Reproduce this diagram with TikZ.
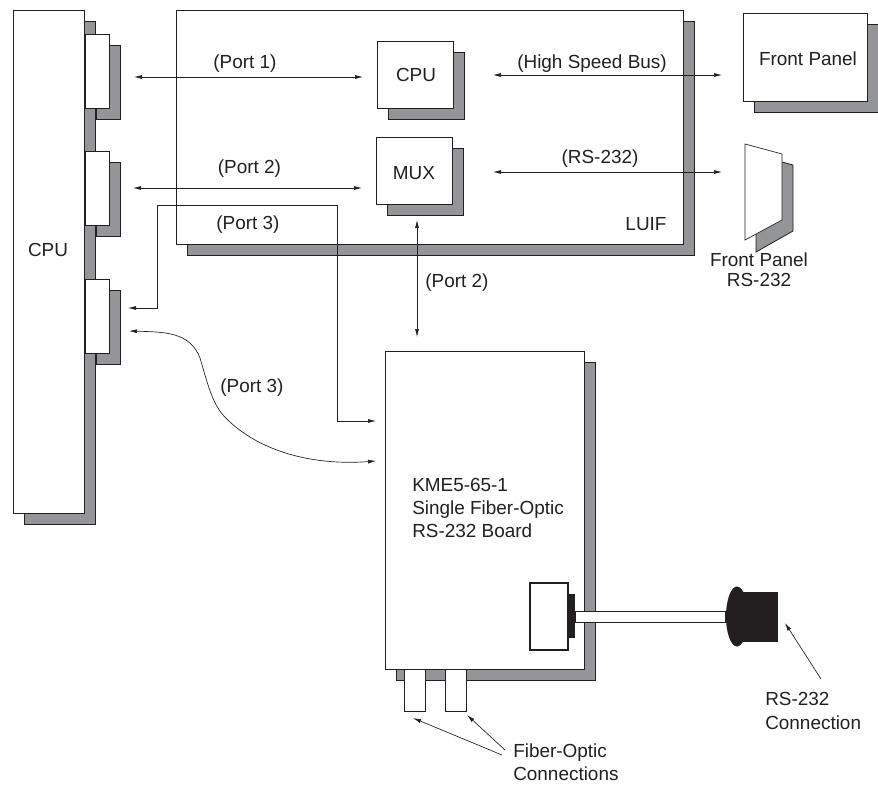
\documentclass[tikz,border=0pt]{standalone}
\usepackage{fontspec}
\setmainfont{Liberation Sans}
\usepackage{xcolor}
\usepackage{tikz}
\usetikzlibrary{arrows.meta,shadows}
\definecolor{cShade}{HTML}{939598}
\definecolor{cInk}{HTML}{231F20}
\tikzset{
  panel/.style={draw=cInk,fill=white,line width=0.6pt,anchor=north west,inner sep=0pt,
    copy shadow={shadow xshift=8.25pt,shadow yshift=-8.25pt,fill=cShade,draw=cInk,line width=0.8pt}},
  boxsize/.style 2 args={minimum width=#1*0.75pt,minimum height=#2*0.75pt},
  tag/.style={text=cInk,inner sep=0pt},
  link/.style={cInk,line width=0.5pt,{Latex[length=6pt,width=3pt]}-{Latex[length=6pt,width=3pt]}},
  pointer/.style={cInk,line width=0.5pt,-{Latex[length=6pt,width=3pt]}}
}
\begin{document}
\begin{tikzpicture}[x=0.75pt,y=-0.75pt,font=\fontsize{14.2}{17}\selectfont]
  \useasboundingbox (0,0) rectangle (878,785);
  % host side
  \node[panel,boxsize={71}{503}] (hostcpu) at (13,10) {};
  \node[tag] (hostlabel) at (48,250) {CPU};
  \foreach \name/\y in {porta/34,portb/151,portc/279}
    \node[panel,boxsize={24}{74},line width=1pt] (\name) at (85,\y) {};
  % LUIF card
  \node[panel,boxsize={507}{234}] (luif) at (176,10) {};
  \node[tag] (luiflabel) at (646,224) {LUIF};
  \node[panel,boxsize={76}{67}] (cpu) at (377,41) {};
  \node[tag] (cpulabel) at (416,75) {CPU};
  \node[panel,boxsize={76}{67}] (mux) at (376,137) {};
  \node[tag] (muxlabel) at (414,173) {MUX};
  % front panel
  \node[panel,boxsize={124}{88}] (front) at (743,13) {};
  \node[tag] (frontlabel) at (808,59) {Front Panel};
  \fill[cShade,draw=cInk,line width=0.6pt] (756,155) -- (793,165) -- (793,231) -- (756,252) -- cycle;
  \draw[cInk,fill=white,line width=0.5pt] (745,144) -- (782,154) -- (782,220) -- (745,240) -- cycle;
  \node[tag,align=center] (rearlabel) at (759,270) {Front Panel\\[-2pt]RS-232};
  % fiber board
  \node[panel,boxsize={199}{318}] (board) at (385,351) {};
  \node[tag,align=left,anchor=west,font=\fontsize{14.2}{17.6}\selectfont] (boardlabel) at (412,508) {KME5-65-1\\Single Fiber-Optic\\RS-232 Board};
  \foreach \name/\x in {fibera/404,fiberb/445}
    \draw[cInk,fill=white,line width=0.5pt] (\x,669) rectangle ++(21,42) coordinate (\name);
  % serial cable
  \fill[cInk] (568,594) rectangle (575,638);
  \draw[cInk,fill=white,line width=0.8pt] (530,583) rectangle (568,650);
  \draw[cInk,fill=white,line width=0.7pt] (575,611) rectangle (725,622);
  \fill[cInk] (737,616.5) ellipse (11 and 30);
  \fill[cInk] (737,592) rectangle (778,642);
  % connectors
  \coordinate (pa) at (134,77);
  \coordinate (cpuin) at (363,77);
  \coordinate (pb) at (133,188);
  \coordinate (muxin) at (362,188);
  \coordinate (hsa) at (493,75);
  \coordinate (hsb) at (722,75);
  \coordinate (rsa) at (493,172);
  \coordinate (rsb) at (722,172);
  \coordinate (pc) at (128,308);
  \coordinate (boardin) at (376,421);
  \coordinate (muxout) at (417,220);
  \coordinate (boardtop) at (417,337);
  \coordinate (pd) at (129,331);
  \coordinate (boardcurve) at (376,461);
  \draw[link] (pa) -- (cpuin);
  \draw[link] (pb) -- (muxin);
  \draw[link] (hsa) -- (hsb);
  \draw[link] (rsa) -- (rsb);
  \draw[link] (muxout) -- (boardtop);
  \draw[link] (pc) -- (157,308) -- (157,205) -- (337,205) -- (337,421) -- (boardin);
  \draw[link] (pd) .. controls (165,332) and (190,332) .. (200,358)
    .. controls (208,385) and (212,402) .. (223,415)
    .. controls (255,450) and (310,466) .. (boardcurve);
  % labels
  \node[tag] (porta1) at (245,64) {(Port 1)};
  \node[tag] (portb1) at (249.5,169) {(Port 2)};
  \node[tag] (portc1) at (248,225) {(Port 3)};
  \node[tag] (hslabel) at (592,64) {(High Speed Bus)};
  \node[tag] (rslabel) at (600,159) {(RS-232)};
  \node[tag] (portb2) at (457,283) {(Port 2)};
  \node[tag] (portc2) at (252,388) {(Port 3)};
  % callouts
  \node[tag,align=left,anchor=west] (fiberlabel) at (513,762) {Fiber-Optic\\Connections};
  \node[tag,align=left,anchor=west] (rslead) at (765,711) {RS-232\\[1pt]Connection};
  \coordinate (fa) at (502,755);
  \coordinate (fb) at (505,750);
  \coordinate (fatip) at (413,718);
  \coordinate (fbtip) at (467,715);
  \coordinate (rstail) at (821,679);
  \coordinate (rstip) at (785,623);
  \draw[pointer] (fa) -- (fatip);
  \draw[pointer] (fb) -- (fbtip);
  \draw[pointer] (rstail) -- (rstip);
\end{tikzpicture}
\end{document}
